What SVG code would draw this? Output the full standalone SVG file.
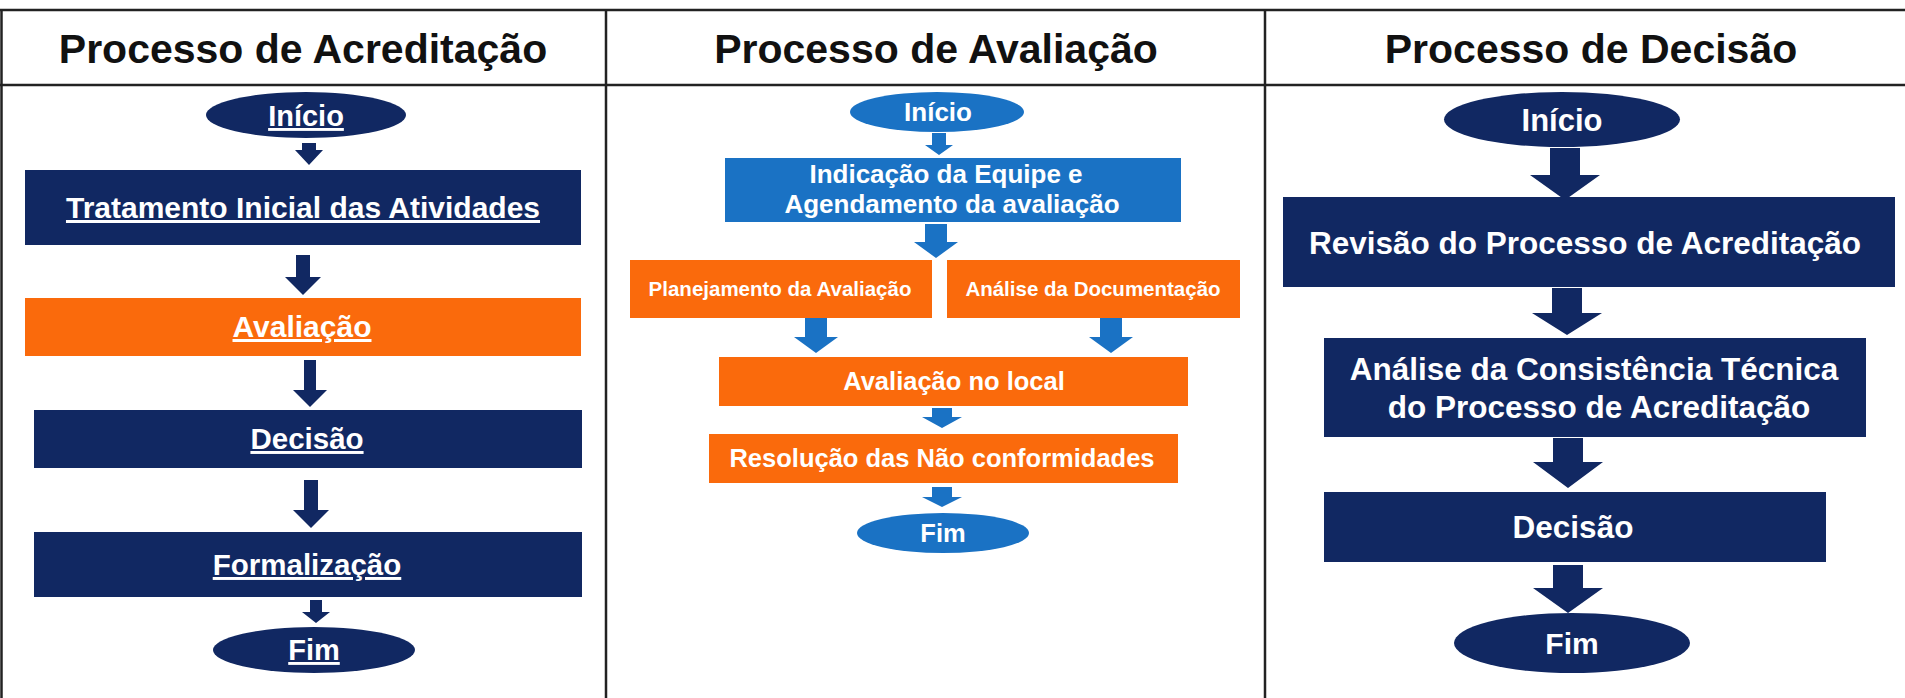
<svg xmlns="http://www.w3.org/2000/svg" width="1905" height="698" viewBox="0 0 1905 698">
<style>
.title{font-family:"Liberation Sans",Arial,sans-serif;font-weight:bold;font-size:41px;fill:#111;text-anchor:middle}
.t{font-family:"Liberation Sans",Arial,sans-serif;font-weight:bold;fill:#fff;text-anchor:middle}
.u{text-decoration:underline}
.navy{fill:#112862}
.blue{fill:#1a72c4}
.orange{fill:#fa6a0c}
.grid{stroke:#222;stroke-width:2.5;fill:none}
</style>
<rect width="1905" height="698" fill="#fff"/>
<g id="table">
<line class="grid" x1="0" y1="10" x2="1905" y2="10"/>
<line class="grid" x1="0" y1="85" x2="1905" y2="85"/>
<line class="grid" x1="1.5" y1="10" x2="1.5" y2="698"/>
<line class="grid" x1="606" y1="10" x2="606" y2="698"/>
<line class="grid" x1="1265" y1="10" x2="1265" y2="698"/>
<text class="title" x="303" y="63">Processo de Acreditação</text>
<text class="title" x="936" y="63">Processo de Avaliação</text>
<text class="title" x="1591" y="63">Processo de Decisão</text>
</g>
<g id="connectors">
<path class="navy" d="M302,143H316V150H323L309,165L295,150H302Z"/>
<path class="navy" d="M296,255H310V277H321L303,295L285,277H296Z"/>
<path class="navy" d="M304,360H316V390H327L310,407L293,390H304Z"/>
<path class="navy" d="M304,480H318V510H329L311,528L293,510H304Z"/>
<path class="navy" d="M310,600H322V612H330L316,623L302,612H310Z"/>
<path class="blue" d="M932,133H946V145H953L939,155L925,145H932Z"/>
<path class="blue" d="M925,224H947V242H958L936,258L914,242H925Z"/>
<path class="blue" d="M805,318H827V337H838L816,353L794,337H805Z"/>
<path class="blue" d="M1100,318H1122V337H1133L1111,353L1089,337H1100Z"/>
<path class="blue" d="M932,408H952V417H962L942,428L922,417H932Z"/>
<path class="blue" d="M932,487H952V497H962L942,507L922,497H932Z"/>
<path class="navy" d="M1550,148H1580V175H1600L1565,200L1530,175H1550Z"/>
<path class="navy" d="M1552,288H1582V313H1602L1567,335L1532,313H1552Z"/>
<path class="navy" d="M1553,438H1583V462H1603L1568,488L1533,462H1553Z"/>
<path class="navy" d="M1553,565H1583V588H1603L1568,613L1533,588H1553Z"/>
</g>
<g id="a-inicio"><ellipse class="navy" cx="306" cy="115" rx="100" ry="23"/><text class="t u" x="306" y="126" font-size="29">Início</text></g>
<g id="a-tratamento"><rect class="navy" x="25" y="170" width="556" height="75"/><text class="t u" x="303" y="218" font-size="30">Tratamento Inicial das Atividades</text></g>
<g id="a-avaliacao"><rect class="orange" x="25" y="298" width="556" height="58"/><text class="t u" x="302" y="337" font-size="30">Avaliação</text></g>
<g id="a-decisao"><rect class="navy" x="34" y="410" width="548" height="58"/><text class="t u" x="307" y="449" font-size="29.5">Decisão</text></g>
<g id="a-formalizacao"><rect class="navy" x="34" y="532" width="548" height="65"/><text class="t u" x="307" y="575" font-size="29.5">Formalização</text></g>
<g id="a-fim"><ellipse class="navy" cx="314" cy="650" rx="101" ry="23"/><text class="t u" x="314" y="660" font-size="29">Fim</text></g>
<g id="b-inicio"><ellipse class="blue" cx="937" cy="112" rx="87" ry="20"/><text class="t" x="938" y="121" font-size="26">Início</text></g>
<g id="b-indicacao"><rect class="blue" x="725" y="158" width="456" height="64"/><text class="t" x="946" y="183" font-size="26">Indicação da Equipe e</text><text class="t" x="952" y="213" font-size="26">Agendamento da avaliação</text></g>
<g id="b-planejamento"><rect class="orange" x="630" y="260" width="302" height="58"/><text class="t" x="780" y="296" font-size="20.5">Planejamento da Avaliação</text></g>
<g id="b-analise"><rect class="orange" x="947" y="260" width="293" height="58"/><text class="t" x="1093" y="296" font-size="20.5">Análise da Documentação</text></g>
<g id="b-local"><rect class="orange" x="719" y="357" width="469" height="49"/><text class="t" x="954" y="390" font-size="25.5">Avaliação no local</text></g>
<g id="b-resolucao"><rect class="orange" x="709" y="434" width="469" height="49"/><text class="t" x="942" y="467" font-size="25.5">Resolução das Não conformidades</text></g>
<g id="b-fim"><ellipse class="blue" cx="943" cy="533" rx="86" ry="20"/><text class="t" x="943" y="542" font-size="25.5">Fim</text></g>
<g id="c-inicio"><ellipse class="navy" cx="1562" cy="119.5" rx="118" ry="27.5"/><text class="t" x="1562" y="130.5" font-size="31">Início</text></g>
<g id="c-revisao"><rect class="navy" x="1283" y="197" width="612" height="90"/><text class="t" x="1585" y="254" font-size="31.5">Revisão do Processo de Acreditação</text></g>
<g id="c-analise"><rect class="navy" x="1324" y="338" width="542" height="99"/><text class="t" x="1594" y="380" font-size="31.5">Análise da Consistência Técnica</text><text class="t" x="1599" y="418" font-size="31.5">do Processo de Acreditação</text></g>
<g id="c-decisao"><rect class="navy" x="1324" y="492" width="502" height="70"/><text class="t" x="1573" y="538" font-size="31.5">Decisão</text></g>
<g id="c-fim"><ellipse class="navy" cx="1572" cy="643" rx="118" ry="30"/><text class="t" x="1572" y="654" font-size="30">Fim</text></g>
</svg>
